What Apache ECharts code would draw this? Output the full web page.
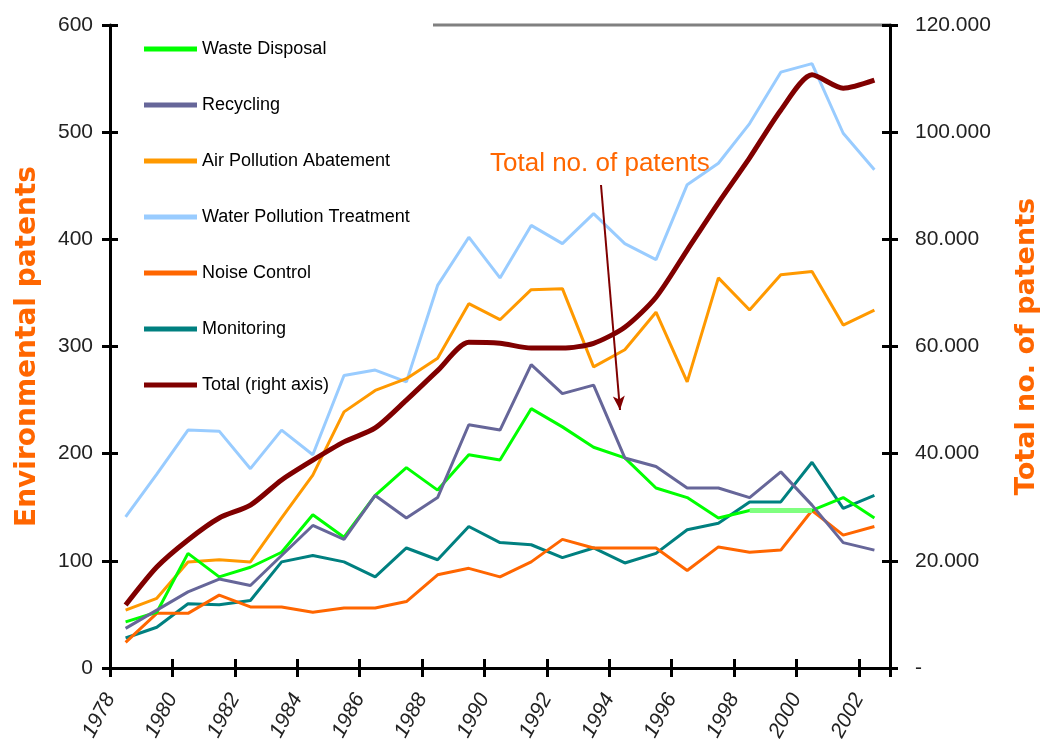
<!DOCTYPE html>
<html>
<head>
<meta charset="utf-8">
<script src="https://cdn.jsdelivr.net/npm/echarts@6/dist/echarts.min.js"></script>
<style>
  html, body { margin: 0; padding: 0; background: #fff; }
  #chart { width: 1053px; height: 752px; }
</style>
</head>
<body>
<div id="chart"></div>
<script>
// patent counts per year
const years = ['1978', '1979', '1980', '1981', '1982', '1983', '1984', '1985', '1986', '1987', '1988', '1989', '1990',
  '1991', '1992', '1993', '1994', '1995', '1996', '1997', '1998', '1999', '2000', '2001', '2002']

// the year labels sit on the band edges in the original, so they get their own list of edges
const yearEdges = ['1978', '1979', '1980', '1981', '1982', '1983', '1984', '1985', '1986', '1987', '1988', '1989', '1990',
  '1991', '1992', '1993', '1994', '1995', '1996', '1997', '1998', '1999', '2000', '2001', '2002', '2003']

const waste = [43, 52, 107, 85, 94, 108, 143, 122, 161, 187, 166, 199, 194, 242, 225, 206, 196, 168, 159, 140, 147, 147, 147, 159, 140]
const recycling = [37, 54, 71, 83, 77, 105, 133, 120, 161, 140, 159, 227, 222, 283, 256, 264, 196, 188, 168, 168, 159, 183, 152, 117, 110]
const airPollution = [54, 65, 99, 101, 99, 140, 180, 239, 259, 270, 289, 340, 325, 353, 354, 281, 297, 332, 267, 364, 334, 367, 370, 320, 334]
const waterPollution = [141, 181, 222, 221, 186, 222, 199, 273, 278, 267, 357, 402, 364, 413, 396, 424, 396, 381, 451, 471, 508, 556, 564, 499, 465]
const noise = [24, 51, 51, 68, 57, 57, 52, 56, 56, 62, 87, 93, 85, 99, 120, 112, 112, 112, 91, 113, 108, 110, 147, 124, 132]
const monitoring = [28, 38, 60, 59, 63, 99, 105, 99, 85, 112, 101, 132, 117, 115, 103, 112, 98, 107, 129, 135, 155, 155, 192, 149, 161]
const total = [11750, 18850, 23900, 28000, 30400, 35100, 38800, 42200, 44800, 50000, 55500, 60800, 60600, 59700, 59700, 60600,
  63600, 69200, 78000, 86800, 95200, 104100, 110700, 108200, 109700]

// waste disposal years drawn as a pale segment in the original
const wasteEstimated = ['1998', '1999', '2000']

const font = "'Liberation Sans', Arial, sans-serif"

const chart = echarts.init(document.getElementById('chart'))

const line = (name, data, color, width, yAxisIndex) => ({
  name,
  type: 'line',
  data,
  yAxisIndex: yAxisIndex || 0,
  showSymbol: false,
  symbol: 'none',
  lineStyle: { color, width },
  itemStyle: { color },
  z: 2
})

const tickStyle = { color: '#000', width: 3 }

// the original ticks cross the axis line, so a second bare axis adds the inner half
const innerY = (min, max, interval, position) => ({
  type: 'value', min, max, interval, position,
  axisLine: { show: false },
  axisTick: { show: true, inside: true, length: 8, lineStyle: tickStyle },
  axisLabel: { show: false },
  splitLine: { show: false }
})

const option = {
  animation: false,
  backgroundColor: '#fff',
  grid: { left: 110, right: 163, top: 25, bottom: 84 },
  legend: {
    orient: 'vertical',
    left: 139,
    top: 33,
    icon: 'rect',
    itemWidth: 53,
    itemHeight: 5,
    itemGap: 34,
    data: ['Waste Disposal', 'Recycling', 'Air Pollution Abatement', 'Water Pollution Treatment',
      'Noise Control', 'Monitoring', 'Total (right axis)'],
    textStyle: { fontFamily: font, fontSize: 18, lineHeight: 22, color: '#000' }
  },
  xAxis: [{
    type: 'category',
    data: years,
    boundaryGap: true,
    position: 'bottom',
    axisLine: { show: true, lineStyle: { color: '#000', width: 3 } },
    axisTick: { show: true, interval: 1, length: 9, lineStyle: tickStyle },
    axisLabel: { show: false }
  }, {
    type: 'category',
    data: years,
    boundaryGap: true,
    position: 'bottom',
    axisLine: { show: false },
    axisTick: { show: true, interval: 1, inside: true, length: 9, lineStyle: tickStyle },
    axisLabel: { show: false }
  }, {
    type: 'category',
    data: yearEdges,
    boundaryGap: false,
    position: 'bottom',
    axisLine: { show: false },
    axisTick: { show: false },
    axisLabel: {
      interval: 1,
      rotate: 62,
      margin: 27,
      fontFamily: font,
      fontSize: 21,
      fontStyle: 'italic',
      color: '#222'
    }
  }],
  yAxis: [{
    type: 'value',
    min: 0,
    max: 600,
    interval: 100,
    name: 'Environmental patents',
    nameLocation: 'middle',
    nameRotate: 90,
    nameGap: 68,
    nameTextStyle: { color: '#FF6600', fontFamily: 'DejaVu Sans', fontWeight: 'bold', fontSize: 28 },
    axisLine: { show: true, lineStyle: { color: '#000', width: 3 } },
    axisTick: { show: true, length: 8, lineStyle: tickStyle },
    axisLabel: { margin: 17, fontFamily: font, fontSize: 21, color: '#222' },
    splitLine: { show: false }
  }, {
    type: 'value',
    min: 0,
    max: 120000,
    interval: 20000,
    position: 'right',
    name: 'Total no. of patents',
    nameLocation: 'middle',
    nameRotate: 90,
    nameGap: 123,
    nameTextStyle: { color: '#FF6600', fontFamily: 'DejaVu Sans', fontWeight: 'bold', fontSize: 27 },
    axisLine: { show: true, lineStyle: { color: '#000', width: 3 } },
    axisTick: { show: true, length: 8, lineStyle: tickStyle },
    axisLabel: {
      margin: 25,
      fontFamily: font,
      fontSize: 21,
      color: '#222',
      formatter: v => v === 0 ? '-' : (v / 1000) + '.000'
    },
    splitLine: { show: false }
  },
  innerY(0, 600, 100, 'left'),
  innerY(0, 120000, 20000, 'right')
  ],
  graphic: [{
    type: 'line',
    shape: { x1: 433, y1: 25, x2: 890, y2: 25 },
    style: { stroke: '#808080', lineWidth: 3 },
    silent: true
  }, {
    type: 'text',
    left: 490,
    top: 151,
    style: { text: 'Total no. of patents', fill: '#FF6600', font: "26px 'Liberation Sans', sans-serif" },
    silent: true
  }],
  series: [
    line('Water Pollution Treatment', waterPollution, '#99CCFF', 3),
    line('Air Pollution Abatement', airPollution, '#FF9900', 3),
    line('Monitoring', monitoring, '#008080', 3),
    line('Noise Control', noise, '#FF6600', 3),
    line('Waste Disposal', waste, '#00FF00', 3),
    {
      name: 'Waste Disposal (estimated)',
      type: 'line',
      data: years.map((y, i) => wasteEstimated.includes(y) ? waste[i] : null),
      showSymbol: false,
      symbol: 'none',
      lineStyle: { color: '#80FF80', width: 5 },
      z: 3
    },
    line('Recycling', recycling, '#666699', 3),
    Object.assign(line('Total (right axis)', total, '#800000', 5, 1), {
      smooth: 0.25,
      z: 4,
      markLine: {
        silent: true,
        symbol: ['none', 'arrow'],
        symbolSize: [9, 14],
        lineStyle: { color: '#800000', width: 2, type: 'solid' },
        label: { show: false },
        data: [[{ x: 601, y: 185 }, { x: 620, y: 410 }]]
      }
    })
  ]
}

chart.setOption(option)
</script>
</body>
</html>
